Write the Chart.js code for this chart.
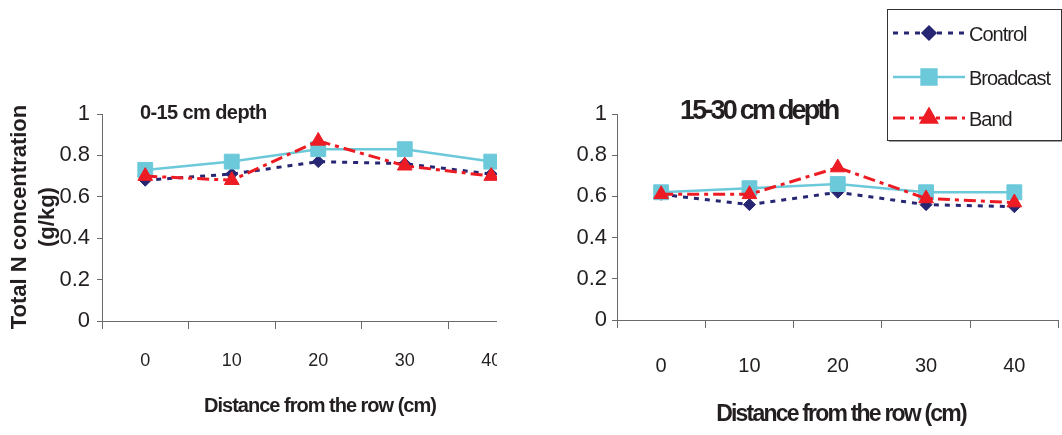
<!DOCTYPE html>
<html>
<head>
<meta charset="utf-8">
<script src="https://cdn.jsdelivr.net/npm/chart.js@4"></script>
<style>
  html, body { margin: 0; padding: 0; background: #fff; }
  body { width: 1062px; height: 435px; position: relative; overflow: hidden;
         font-family: 'Liberation Sans', Arial, sans-serif; color: #231f20; }
  .clip { position: absolute; top: 0; height: 435px; overflow: hidden; }
  .clip canvas { display: block; }
  .txt { position: absolute; white-space: nowrap; font-weight: bold; line-height: 1; }
</style>
</head>
<body>
<div class="clip" style="left:0;width:497px"><canvas id="shallow" width="560" height="435"></canvas></div>
<div class="clip" style="left:540px;width:522px"><canvas id="deep" width="530" height="435"></canvas></div>

<div class="txt" style="left:33px;top:217px;width:260px;font-size:22px;line-height:28px;text-align:center;transform:translate(-50%,-50%) rotate(-90deg);">Total N concentration<br>(g/kg)</div>
<div class="txt" style="left:140px;top:112px;font-size:20px;letter-spacing:-0.6px;transform:translateY(-50%);">0-15 cm depth</div>
<div class="txt" style="left:680px;top:110px;font-size:27px;letter-spacing:-2.8px;transform:translateY(-50%);">15-30 cm depth</div>
<div class="txt" style="left:320px;top:405px;font-size:20px;letter-spacing:-1px;transform:translate(-50%,-50%);">Distance from the row (cm)</div>
<div class="txt" style="left:841px;top:413px;font-size:23px;letter-spacing:-1.8px;transform:translate(-50%,-50%);">Distance from the row (cm)</div>

<script>
// Distance from the crop row (cm)
const distances = ['0', '10', '20', '30', '40'];
const yTickLabels = ['0', '0.2', '0.4', '0.6', '0.8', '1'];

// Total N (g/kg), 0-15 cm depth
const control0to15   = [0.68, 0.71, 0.77, 0.76, 0.71];
const broadcast0to15 = [0.73, 0.77, 0.83, 0.83, 0.77];
const band0to15      = [0.70, 0.68, 0.87, 0.75, 0.70];

// Total N (g/kg), 15-30 cm depth
const control15to30   = [0.61, 0.56, 0.62, 0.56, 0.55];
const broadcast15to30 = [0.62, 0.64, 0.66, 0.62, 0.62];
const band15to30      = [0.61, 0.61, 0.74, 0.59, 0.57];

const seriesNames = ['Control', 'Broadcast', 'Band'];

const NAVY = '#262673';
const CYAN = '#6cc9da';
const RED  = '#ed1c24';
const AXIS = '#6a6a6a';
const FONT = "'Liberation Sans', Arial, sans-serif";

Chart.defaults.font.family = FONT;
Chart.defaults.color = '#231f20';

function buildDatasets(control, broadcast, band) {
  return [
    { label: seriesNames[0], data: control, order: 2,
      borderColor: NAVY, backgroundColor: NAVY, borderWidth: 3, borderDash: [5, 6],
      pointStyle: 'rectRot', pointRadius: 6, pointBorderWidth: 1,
      pointBackgroundColor: NAVY, pointBorderColor: NAVY },
    { label: seriesNames[1], data: broadcast, order: 1,
      borderColor: CYAN, backgroundColor: CYAN, borderWidth: 2.5,
      pointStyle: 'rect', pointRadius: 10.5, pointBorderWidth: 1,
      pointBackgroundColor: CYAN, pointBorderColor: CYAN },
    { label: seriesNames[2], data: band, order: 0,
      borderColor: RED, backgroundColor: RED, borderWidth: 3, borderDash: [12, 5, 4, 5],
      pointStyle: 'triangle', pointRadius: 8.5, pointBorderWidth: 1,
      pointBackgroundColor: RED, pointBorderColor: RED }
  ];
}

// Boxed legend: line sample with marker, then the series name
const boxedLegend = {
  id: 'boxedLegend',
  afterDraw(chart, args, opts) {
    if (!opts || !opts.display) return;
    const ctx = chart.ctx;
    ctx.save();
    // drop shadow and frame
    ctx.fillStyle = '#a0a0a0';
    ctx.fillRect(opts.x + 2, opts.y + 2, opts.w, opts.h);
    ctx.fillStyle = '#ffffff';
    ctx.fillRect(opts.x, opts.y, opts.w, opts.h);
    ctx.strokeStyle = '#333333';
    ctx.lineWidth = 1;
    ctx.strokeRect(opts.x + 0.5, opts.y + 0.5, opts.w, opts.h);

    chart.data.datasets.forEach((ds, i) => {
      const ry = opts.rows[i];
      ctx.save();
      ctx.strokeStyle = ds.borderColor;
      ctx.lineWidth = ds.borderWidth;
      ctx.setLineDash(ds.borderDash || []);
      ctx.beginPath();
      ctx.moveTo(opts.lineStart, ry);
      ctx.lineTo(opts.lineEnd, ry);
      ctx.stroke();
      ctx.setLineDash([]);
      ctx.fillStyle = ds.pointBackgroundColor;
      ctx.strokeStyle = ds.pointBorderColor;
      Chart.helpers.drawPoint(ctx, {
        pointStyle: ds.pointStyle, radius: ds.pointRadius, rotation: 0,
        borderWidth: ds.pointBorderWidth
      }, (opts.lineStart + opts.lineEnd) / 2, ry);
      ctx.restore();

      ctx.fillStyle = '#231f20';
      ctx.font = '20px ' + FONT;
      ctx.letterSpacing = '-1px';
      ctx.textBaseline = 'middle';
      ctx.textAlign = 'left';
      ctx.fillText(ds.label, opts.textX, ry + 2);
    });
    ctx.restore();
  }
};

function makeChart(id, datasets, geo) {
  return new Chart(document.getElementById(id), {
    type: 'line',
    data: { labels: distances, datasets },
    options: {
      responsive: false,
      animation: false,
      devicePixelRatio: 1,
      layout: { padding: { top: geo.top, right: geo.right, left: 0, bottom: 0 } },
      plugins: {
        legend: { display: false },
        tooltip: { enabled: false },
        boxedLegend: geo.legend || { display: false }
      },
      elements: { line: { tension: 0, fill: false } },
      scales: {
        x: {
          type: 'category',
          offset: true,
          grid: { offset: true, drawOnChartArea: false, drawTicks: true,
                  tickLength: 8, color: AXIS, lineWidth: 1 },
          border: { color: AXIS, width: 1 },
          ticks: { font: { size: geo.xFont }, padding: geo.xPad, maxRotation: 0, autoSkip: false },
          afterFit(scale) { scale.height = geo.xHeight; }
        },
        y: {
          min: 0, max: 1,
          grid: { drawOnChartArea: false, drawTicks: true, tickLength: 5, color: AXIS, lineWidth: 1 },
          border: { color: AXIS, width: 1 },
          ticks: { stepSize: 0.2, font: { size: 22 }, padding: geo.yPad,
                   callback: (v, i) => yTickLabels[i] },
          afterFit(scale) { scale.width = geo.yWidth; }
        }
      }
    },
    plugins: [boxedLegend]
  });
}

makeChart('shallow', buildDatasets(control0to15, broadcast0to15, band0to15), {
  top: 114, right: 560 - 534.5, yWidth: 102, xHeight: 435 - 321,
  xFont: 18, xPad: 21, yPad: 7
});

makeChart('deep', buildDatasets(control15to30, broadcast15to30, band15to30), {
  top: 114, right: 530 - 523.5, yWidth: 77, xHeight: 435 - 320,
  xFont: 20, xPad: 26, yPad: 5,
  legend: { display: true, x: 347, y: 9, w: 174, h: 131,
            rows: [33, 77, 118], lineStart: 353, lineEnd: 425, textX: 429 }
});
</script>
</body>
</html>
